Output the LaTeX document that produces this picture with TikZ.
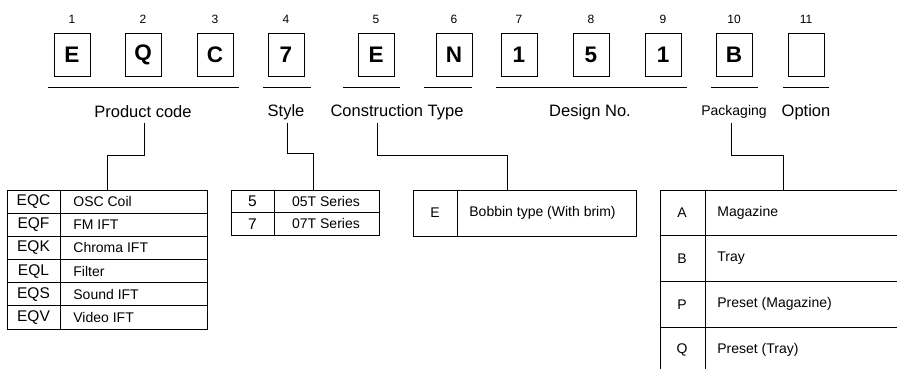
\documentclass[tikz,border=0pt]{standalone}
\usepackage{fontspec}
\setmainfont{Liberation Sans}
\begin{document}
\begin{tikzpicture}[x=1pt,y=-1pt,line width=0.8pt,
  digbox/.style={draw,minimum width=36pt,minimum height=43pt,inner sep=0pt,font=\fontsize{22.5}{26}\selectfont\bfseries},
  num/.style={inner sep=0pt,font=\fontsize{12}{14}\selectfont},
  lab/.style={inner sep=0pt,minimum height=22pt,font=\fontsize{16.5}{19}\selectfont},
  tbl/.style={draw,inner sep=0pt,anchor=north west},
  code/.style={inner sep=0pt,font=\fontsize{14}{16}\selectfont},
  pcode/.style={inner sep=0pt,font=\fontsize{15.5}{17}\selectfont},
  desc/.style={inner sep=0pt,anchor=west,font=\fontsize{14}{16}\selectfont}]
\useasboundingbox (0,0) rectangle (897,368);
\clip (0,0) rectangle (897,368);
% digits
\foreach \i/\x/\t in {1/72/E,2/143/Q,3/215/C,4/286/7,5/376/E,6/454/N,7/519/1,8/591/5,9/663/1,10/734/B,11/806/{}}{
  \node[num] (n\i) at (\x,19) {\i};
  \node[digbox] (b\i) at (\x,55) {\t};
}
% underlines
\foreach \a/\b in {48/239,263/311,343/400,424/472,496/687,711/758,783/829}
  \draw (\a,87) -- (\b,87);
% labels
\node[lab] (lpc) at (143,112) {Product code};
\node[lab] (lst) at (286,112) {Style};
\node[lab] (lct) at (397,112) {Construction Type};
\node[lab] (ldn) at (590,112) {Design No.};
\node[lab,font=\fontsize{14}{16}\selectfont] (lpk) at (734,112) {Packaging};
\node[lab] (lop) at (806,112) {Option};
% tables
\node[tbl,minimum width=200pt,minimum height=139pt] (tpc) at (7,190) {};
\node[tbl,minimum width=148pt,minimum height=45pt] (tst) at (231,190) {};
\node[tbl,minimum width=223pt,minimum height=46pt] (tct) at (413,190) {};
\node[tbl,minimum width=300pt,minimum height=200pt] (tpk) at (660,190) {};
% product table
\draw (60,190) -- (60,329);
\foreach \k in {1,...,5} \draw (7,190+\k*23.17) -- (207,190+\k*23.17);
\foreach \k/\c/\d in {0/EQC/OSC Coil,1/EQF/FM IFT,2/EQK/Chroma IFT,3/EQL/Filter,4/EQS/Sound IFT,5/EQV/Video IFT}{
  \node[pcode] (pc\k) at (33.5,190+\k*23.17+11.6) {\c};
  \node[desc] (pd\k) at (73,190+\k*23.17+11.6) {\d};
}
% style table
\draw (274,190) -- (274,235);
\draw (231,212.5) -- (379,212.5);
\node[pcode] (sc0) at (252.5,201.3) {5};
\node[code] (sd0) at (326,201.3) {05T Series};
\node[pcode] (sc1) at (252.5,223.8) {7};
\node[code] (sd1) at (326,223.8) {07T Series};
% construction table
\draw (457,190) -- (457,236);
\node[code] (cc0) at (435,213) {E};
\node[desc] (cd0) at (469,213) {Bobbin type (With brim)};
% packaging table
\draw (705,190) -- (705,390);
\foreach \k in {1,2,3} \draw (660,190+\k*45.7) -- (960,190+\k*45.7);
\foreach \k/\c/\d in {0/A/Magazine,1/B/Tray,2/P/Preset (Magazine),3/Q/Preset (Tray)}{
  \node[code] (kc\k) at (682,190+\k*45.7+22.8) {\c};
  \node[desc] (kd\k) at (717,190+\k*45.7+22.8) {\d};
}
% connectors
\draw ([xshift=1pt]lpc.south) -- ++(0,32) -| (tpc.north);
\draw ([xshift=1pt]lst.south) -- ++(0,30) -| ([xshift=8pt]tst.north);
\draw ([xshift=-20pt]lct.south) -- ++(0,32) -| ([xshift=-17.5pt]tct.north);
\draw ([xshift=-3pt]lpk.south) -- ++(0,32) -| ([xshift=-27pt]tpk.north);
\end{tikzpicture}
\end{document}
